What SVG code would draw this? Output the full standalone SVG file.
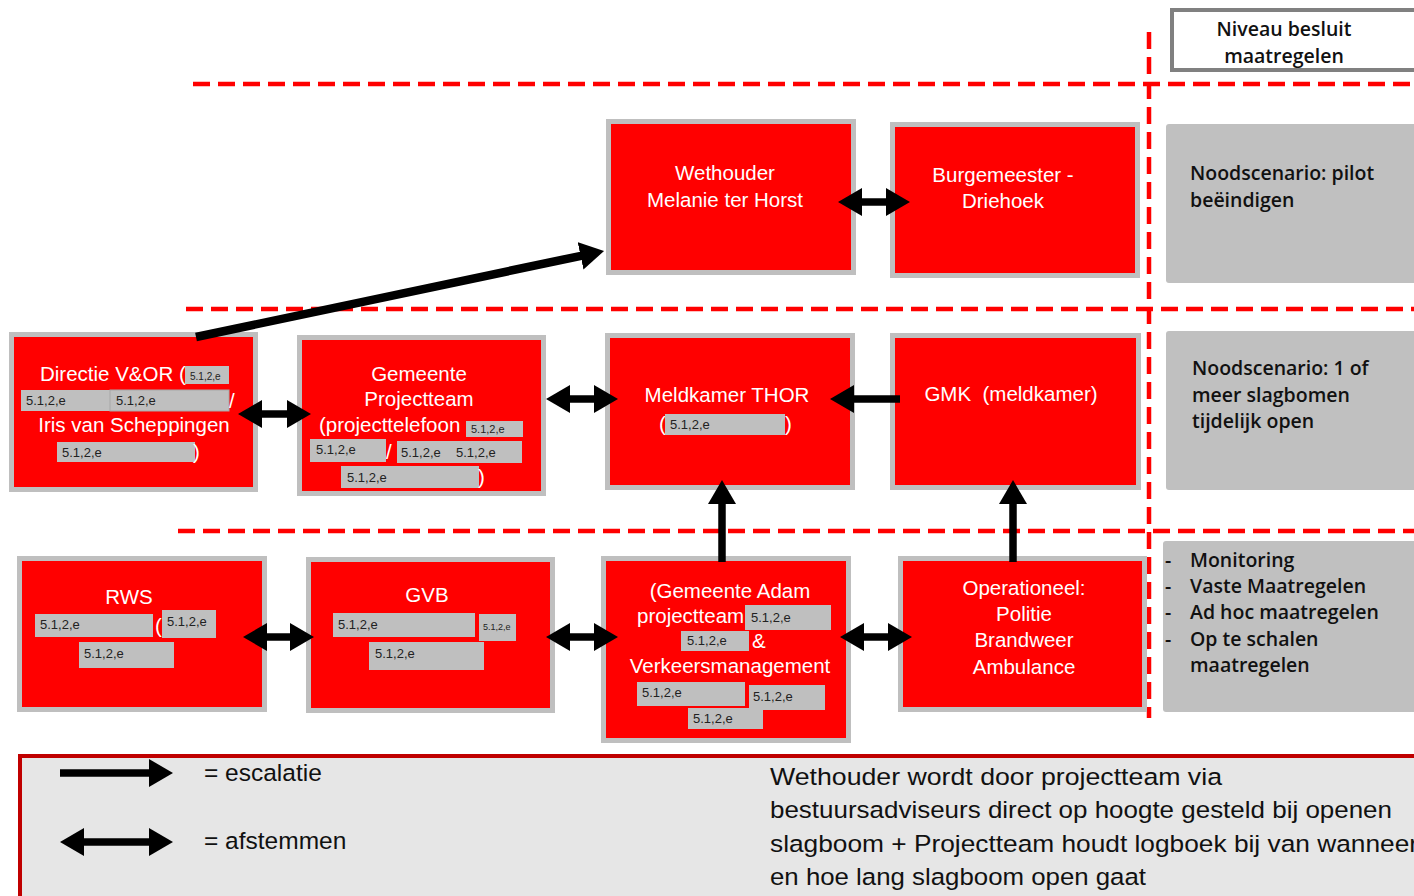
<svg xmlns="http://www.w3.org/2000/svg" width="1414" height="896" viewBox="0 0 1414 896">
<style>
.dash{stroke:#ff0000;stroke-width:4.5;stroke-dasharray:17 8;fill:none}
.node{fill:#ff0000;stroke:#bfbfbf;stroke-width:5}
.side{fill:#c0c0c0;stroke:none}
.nt{font-family:"Liberation Sans",Arial,sans-serif;font-size:20.5px;fill:#ffffff;text-anchor:middle}
.ntl{font-family:"Liberation Sans",Arial,sans-serif;font-size:20.5px;fill:#ffffff}
.red{fill:#bfbfbf}
.rt{font-family:"Liberation Sans",Arial,sans-serif;font-size:13px;fill:#222222}
.st{font-family:"Open Sans","Liberation Sans",sans-serif;font-size:19.5px;font-weight:600;fill:#111111}
.lg{font-family:"Liberation Sans",Arial,sans-serif;font-size:24.5px;fill:#111111}
.con{stroke:#000000;stroke-width:7.5;fill:none}
</style>
<defs>
<marker id="ah" markerUnits="userSpaceOnUse" markerWidth="24" markerHeight="28" viewBox="0 0 24 28" refX="3" refY="14" orient="auto-start-reverse"><path d="M0,0 L24,14 L0,28 z" fill="#000000"/></marker>
</defs>

<g id="guides">
<line class="dash" x1="193" y1="84" x2="1414" y2="84"/>
<line class="dash" x1="186" y1="309" x2="1414" y2="309"/>
<line class="dash" x1="178" y1="531" x2="1414" y2="531"/>
<line class="dash" x1="1149" y1="32" x2="1149" y2="718"/>
</g>

<g id="niveau">
<rect x="1172" y="10" width="250" height="60" fill="#ffffff" stroke="#808080" stroke-width="4"/>
<text class="st" x="1284" y="36" text-anchor="middle">Niveau besluit</text>
<text class="st" x="1284" y="63" text-anchor="middle">maatregelen</text>
</g>

<g id="side1"><rect class="side" x="1166" y="124" width="260" height="159" rx="3"/>
<text class="st" x="1190" y="180">Noodscenario: pilot</text>
<text class="st" x="1190" y="207">beëindigen</text></g>

<g id="side2"><rect class="side" x="1166" y="331" width="260" height="159" rx="3"/>
<text class="st" x="1192" y="375">Noodscenario: 1 of</text>
<text class="st" x="1192" y="402">meer slagbomen</text>
<text class="st" x="1192" y="428">tijdelijk open</text></g>

<g id="side3"><rect class="side" x="1163" y="541" width="260" height="171" rx="3"/>
<text class="st" x="1165" y="567">-</text><text class="st" x="1190" y="567">Monitoring</text>
<text class="st" x="1165" y="593">-</text><text class="st" x="1190" y="593">Vaste Maatregelen</text>
<text class="st" x="1165" y="619">-</text><text class="st" x="1190" y="619">Ad hoc maatregelen</text>
<text class="st" x="1165" y="646">-</text><text class="st" x="1190" y="646">Op te schalen</text>
<text class="st" x="1190" y="672">maatregelen</text></g>

<g id="wethouder"><rect class="node" x="608.5" y="121.5" width="245" height="151"/>
<text class="nt" x="725" y="180">Wethouder</text>
<text class="nt" x="725" y="207">Melanie ter Horst</text></g>

<g id="burgemeester"><rect class="node" x="892.5" y="124.5" width="245" height="151"/>
<text class="nt" x="1003" y="182">Burgemeester -</text>
<text class="nt" x="1003" y="208">Driehoek</text></g>

<g id="directie"><rect class="node" x="11.5" y="334.5" width="244" height="155"/>
<text class="ntl" x="40" y="381">Directie V&amp;OR (</text>
<rect class="red" x="185" y="366" width="44" height="18"/><text class="rt" x="190" y="380" style="font-size:10px">5.1,2,e</text>
<rect class="red" x="21" y="390" width="89" height="21"/><text class="rt" x="26" y="405">5.1,2,e</text>
<rect class="red" x="110" y="390" width="119" height="21" stroke="#a8a8a8" stroke-width="1"/><text class="rt" x="116" y="405">5.1,2,e</text>
<text class="ntl" x="229" y="408">/</text>
<text class="nt" x="134" y="432">Iris van Scheppingen</text>
<rect class="red" x="57" y="442" width="138" height="20"/><text class="rt" x="62" y="457">5.1,2,e</text>
<text class="ntl" x="193" y="459">)</text></g>

<g id="projectteam"><rect class="node" x="299.5" y="337.5" width="244" height="156"/>
<text class="nt" x="419" y="381">Gemeente</text>
<text class="nt" x="419" y="406">Projectteam</text>
<text class="ntl" x="319" y="432">(projecttelefoon</text>
<rect class="red" x="466" y="421" width="57" height="16"/><text class="rt" x="471" y="433" style="font-size:11px">5.1,2,e</text>
<text class="ntl" x="386" y="459">/</text>
<rect class="red" x="310" y="439" width="76" height="23"/><text class="rt" x="316" y="454">5.1,2,e</text>
<rect class="red" x="397" y="441" width="125" height="22"/><text class="rt" x="401" y="457">5.1,2,e</text><text class="rt" x="456" y="457">5.1,2,e</text>
<rect class="red" x="341" y="466" width="138" height="22"/><text class="rt" x="347" y="482">5.1,2,e</text>
<text class="ntl" x="478" y="484">)</text></g>

<g id="meldkamer"><rect class="node" x="607.5" y="335.5" width="245" height="152"/>
<text class="nt" x="727" y="402">Meldkamer THOR</text>
<text class="ntl" x="659" y="431">(</text>
<rect class="red" x="665" y="414" width="120" height="21"/><text class="rt" x="670" y="429">5.1,2,e</text>
<text class="ntl" x="785" y="431">)</text></g>

<g id="gmk"><rect class="node" x="892.5" y="335.5" width="246" height="152"/>
<text class="nt" x="1011" y="401">GMK&#160; (meldkamer)</text></g>

<g id="rws"><rect class="node" x="19.5" y="558.5" width="245" height="151"/>
<text class="nt" x="129" y="604">RWS</text>
<rect class="red" x="35" y="614" width="118" height="23"/><text class="rt" x="40" y="629">5.1,2,e</text>
<text class="ntl" x="155" y="633">(</text>
<rect class="red" x="162" y="610" width="54" height="28"/><text class="rt" x="167" y="626">5.1,2,e</text>
<rect class="red" x="79" y="642" width="95" height="26"/><text class="rt" x="84" y="658">5.1,2,e</text></g>

<g id="gvb"><rect class="node" x="308.5" y="559.5" width="244" height="151"/>
<text class="nt" x="427" y="602">GVB</text>
<rect class="red" x="333" y="613" width="142" height="24"/><text class="rt" x="338" y="629">5.1,2,e</text>
<rect class="red" x="479" y="614" width="37" height="27"/><text class="rt" x="483" y="630" style="font-size:9px">5.1,2,e</text>
<rect class="red" x="369" y="642" width="115" height="28"/><text class="rt" x="375" y="658">5.1,2,e</text></g>

<g id="adam"><rect class="node" x="603.5" y="558.5" width="245" height="182"/>
<text class="nt" x="730" y="598">(Gemeente Adam</text>
<text class="ntl" x="637" y="623">projectteam</text>
<rect class="red" x="745" y="605" width="86" height="25"/><text class="rt" x="751" y="622">5.1,2,e</text>
<rect class="red" x="681" y="631" width="68" height="20"/><text class="rt" x="687" y="645">5.1,2,e</text>
<text class="ntl" x="752" y="648">&amp;</text>
<text class="nt" x="730" y="673">Verkeersmanagement</text>
<rect class="red" x="637" y="682" width="108" height="24"/><text class="rt" x="642" y="697">5.1,2,e</text>
<rect class="red" x="749" y="685" width="76" height="25"/><text class="rt" x="753" y="701">5.1,2,e</text>
<rect class="red" x="688" y="708" width="75" height="21"/><text class="rt" x="693" y="723">5.1,2,e</text></g>

<g id="operationeel"><rect class="node" x="900.5" y="558.5" width="244" height="151"/>
<text class="nt" x="1024" y="595">Operationeel:</text>
<text class="nt" x="1024" y="621">Politie</text>
<text class="nt" x="1024" y="647">Brandweer</text>
<text class="nt" x="1024" y="674">Ambulance</text></g>

<g id="connectors">
<line class="con" x1="196" y1="337" x2="583.5" y2="255.3" marker-end="url(#ah)" style="stroke-width:8.5"/>
<line class="con" x1="859" y1="202" x2="889" y2="202" marker-start="url(#ah)" marker-end="url(#ah)"/>
<line class="con" x1="259" y1="414" x2="290" y2="414" marker-start="url(#ah)" marker-end="url(#ah)"/>
<line class="con" x1="567" y1="399" x2="597" y2="399" marker-start="url(#ah)" marker-end="url(#ah)"/>
<line class="con" x1="900" y1="399" x2="851" y2="399" marker-end="url(#ah)"/>
<line class="con" x1="722" y1="562" x2="722" y2="501" marker-end="url(#ah)"/>
<line class="con" x1="1013" y1="562" x2="1013" y2="501" marker-end="url(#ah)"/>
<line class="con" x1="264" y1="637" x2="293" y2="637" marker-start="url(#ah)" marker-end="url(#ah)"/>
<line class="con" x1="567" y1="637" x2="597" y2="637" marker-start="url(#ah)" marker-end="url(#ah)"/>
<line class="con" x1="861" y1="637" x2="891" y2="637" marker-start="url(#ah)" marker-end="url(#ah)"/>
</g>

<g id="legend">
<rect x="20" y="756" width="1410" height="145" fill="#e6e6e6" stroke="#c00000" stroke-width="4"/>
<line class="con" x1="60" y1="773" x2="152" y2="773" marker-end="url(#ah)"/>
<line class="con" x1="81" y1="842" x2="152" y2="842" marker-start="url(#ah)" marker-end="url(#ah)"/>
<text class="lg" x="204" y="781">= escalatie</text>
<text class="lg" x="204" y="849">= afstemmen</text>
<text class="lg" x="770" y="785" textLength="452" lengthAdjust="spacingAndGlyphs">Wethouder wordt door projectteam via</text>
<text class="lg" x="770" y="818" textLength="622" lengthAdjust="spacingAndGlyphs">bestuursadviseurs direct op hoogte gesteld bij openen</text>
<text class="lg" x="770" y="852" textLength="648" lengthAdjust="spacingAndGlyphs">slagboom + Projectteam houdt logboek bij van wanneer</text>
<text class="lg" x="770" y="885" textLength="376" lengthAdjust="spacingAndGlyphs">en hoe lang slagboom open gaat</text>
</g>
</svg>
